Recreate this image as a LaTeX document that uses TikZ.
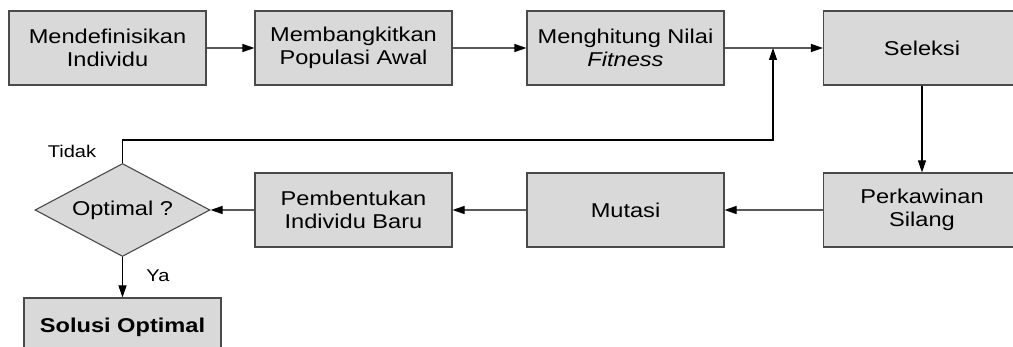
\documentclass[tikz,border=0pt]{standalone}
\usepackage{fontspec}
\setmainfont{Liberation Sans}[FakeStretch=1.18]
\usetikzlibrary{arrows.meta,shapes.geometric}
\definecolor{boxfill}{HTML}{D9D9D9}
\definecolor{boxline}{HTML}{4A4A4A}
\definecolor{conn}{HTML}{5A5A5A}
\begin{document}
\begin{tikzpicture}[x=1pt,y=-1pt,
  stepbox/.style={draw=boxline,fill=boxfill,line width=1.1pt,minimum width=197pt,minimum height=74pt,inner sep=0pt,align=center,font=\fontsize{20}{23}\selectfont},
  decide/.style={draw=boxline,fill=boxfill,line width=1.1pt,shape=diamond,aspect=1.88,minimum width=175pt,minimum height=93pt,inner sep=0pt,font=\fontsize{20}{23}\selectfont},
  flow/.style={draw=conn,line width=1.1pt,-{Triangle[length=12pt,width=8pt,fill=black,color=black]}},
  lbl/.style={font=\fontsize{17}{19}\selectfont,inner sep=0pt}]
\useasboundingbox (0,0) rectangle (1013,347);
\node[stepbox] (b1) at (107.5,48) {Mendefinisikan\\Individu};
\node[stepbox] (b2) at (353.5,48) {Membangkitkan\\Populasi Awal};
\node[stepbox] (b3) at (625.5,48) {Menghitung Nilai\\\textit{Fitness}};
\node[stepbox] (sel) at (922,48) {Seleksi};
\node[stepbox] (perk) at (922,210) {Perkawinan\\Silang};
\node[stepbox] (mut) at (625.5,210) {Mutasi};
\node[stepbox] (pem) at (353.5,210) {Pembentukan\\Individu Baru};
\node[decide] (dia) at (122.5,210) {Optimal ?};
\node[stepbox,minimum height=58pt] (sol) at (122.5,327) {\textbf{Solusi Optimal}};
\coordinate (turn) at (773,140);
\coordinate (join) at (773,48);
\draw[flow] (b1.east) -- (b2.west);
\draw[flow] (b2.east) -- (b3.west);
\draw[flow] (b3.east) -- (sel.west);
\draw[flow,draw=black] (sel.south) -- (perk.north);
\draw[flow] (perk.west) -- (mut.east);
\draw[flow] (mut.west) -- (pem.east);
\draw[flow] (pem.west) -- (dia.east);
\draw[flow,draw=black] (dia.north) |- (turn) -- (join);
\draw[flow,draw=black] (dia.south) -- (sol.north);
\node[lbl] (tidak) at (72,151) {Tidak};
\node[lbl] (ya) at (158,276) {Ya};
\end{tikzpicture}
\end{document}
